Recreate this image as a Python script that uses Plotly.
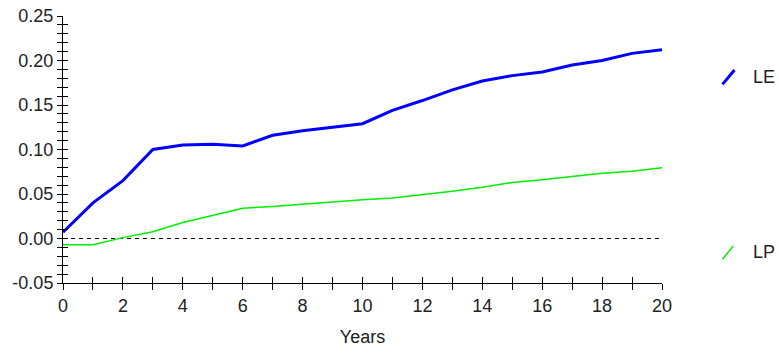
import plotly.graph_objects as go

years = list(range(0, 21))
le = [0.007, 0.040, 0.065, 0.100, 0.105, 0.106, 0.104, 0.116, 0.121, 0.125, 0.129,
      0.144, 0.155, 0.167, 0.177, 0.183, 0.187, 0.195, 0.200, 0.208, 0.212]
lp = [-0.007, -0.007, 0.001, 0.0075, 0.018, 0.0256, 0.034, 0.036, 0.0388, 0.0414, 0.0436,
      0.0455, 0.049, 0.053, 0.0575, 0.063, 0.066, 0.0696, 0.0733, 0.0755, 0.0794]
zero_x = [0, 20]
zero_y = [0, 0]
y_tick_vals = [-0.05, 0.0, 0.05, 0.10, 0.15, 0.20, 0.25]
y_tick_text = ["-0.05", "0.00", "0.05", "0.10", "0.15", "0.20", "0.25"]

FONT = "Liberation Sans, Arial, sans-serif"
TXT = "#222222"

fig = go.Figure()
fig.add_trace(go.Scatter(x=zero_x, y=zero_y, mode="lines",
                         line=dict(color="black", width=1, dash="4px,4px"),
                         showlegend=False, hoverinfo="skip"))
fig.add_trace(go.Scatter(x=years, y=lp, mode="lines", name="LP",
                         line=dict(color="#00ee00", width=1.5), showlegend=False))
fig.add_trace(go.Scatter(x=years, y=le, mode="lines", name="LE",
                         line=dict(color="#0000ff", width=3), showlegend=False))

axis_common = dict(showgrid=False, zeroline=False, showline=True, linecolor="black",
                   linewidth=1, tickcolor="black", tickwidth=1, automargin=False,
                   tickfont=dict(family=FONT, size=18, color=TXT))

fig.update_layout(
    width=779, height=354,
    margin=dict(l=63, r=117, t=16, b=71),
    paper_bgcolor="white", plot_bgcolor="white",
    xaxis=dict(range=[0, 20], dtick=2, ticks="outside", ticklen=6,
               minor=dict(dtick=1, ticks="outside", ticklen=6, tickcolor="black"),
               title=dict(text="Years", font=dict(family=FONT, size=18, color=TXT), standoff=15),
               **axis_common),
    yaxis=dict(range=[-0.05, 0.25], tickmode="array", tickvals=y_tick_vals, ticktext=y_tick_text,
               ticks="outside", ticklen=5,
               minor=dict(dtick=0.01, ticks="outside", ticklen=5, tickcolor="black"),
               **axis_common),
    # mirrored axes supply the inner half of the crossing ticks
    xaxis2=dict(overlaying="x", range=[0, 20], dtick=2, ticks="inside", ticklen=6,
                minor=dict(dtick=1, ticks="inside", ticklen=6, tickcolor="black"),
                showticklabels=False, showgrid=False, zeroline=False, showline=False,
                tickcolor="black", side="bottom", anchor="y", automargin=False),
    yaxis2=dict(overlaying="y", range=[-0.05, 0.25], dtick=0.05, ticks="inside", ticklen=5,
                minor=dict(dtick=0.01, ticks="inside", ticklen=5, tickcolor="black"),
                showticklabels=False, showgrid=False, zeroline=False, showline=False,
                tickcolor="black", side="left", anchor="x", automargin=False),
)

# a dummy trace so the overlay axes get drawn
fig.add_trace(go.Scatter(x=[None], y=[None], xaxis="x2", yaxis="y2",
                         showlegend=False, hoverinfo="skip"))

# key entries with slanted line samples
fig.add_shape(type="line", xref="paper", yref="paper", x0=1.101, y0=0.744, x1=1.121, y1=0.798,
              line=dict(color="#0000ff", width=3))
fig.add_shape(type="line", xref="paper", yref="paper", x0=1.101, y0=0.089, x1=1.119, y1=0.139,
              line=dict(color="#00ee00", width=1.5))
fig.add_annotation(text="LE", xref="paper", yref="paper", x=1.148, y=0.7715,
                   xanchor="left", yanchor="middle", showarrow=False,
                   font=dict(family=FONT, size=18, color=TXT))
fig.add_annotation(text="LP", xref="paper", yref="paper", x=1.148, y=0.117,
                   xanchor="left", yanchor="middle", showarrow=False,
                   font=dict(family=FONT, size=18, color=TXT))

fig.write_html("out.html")
